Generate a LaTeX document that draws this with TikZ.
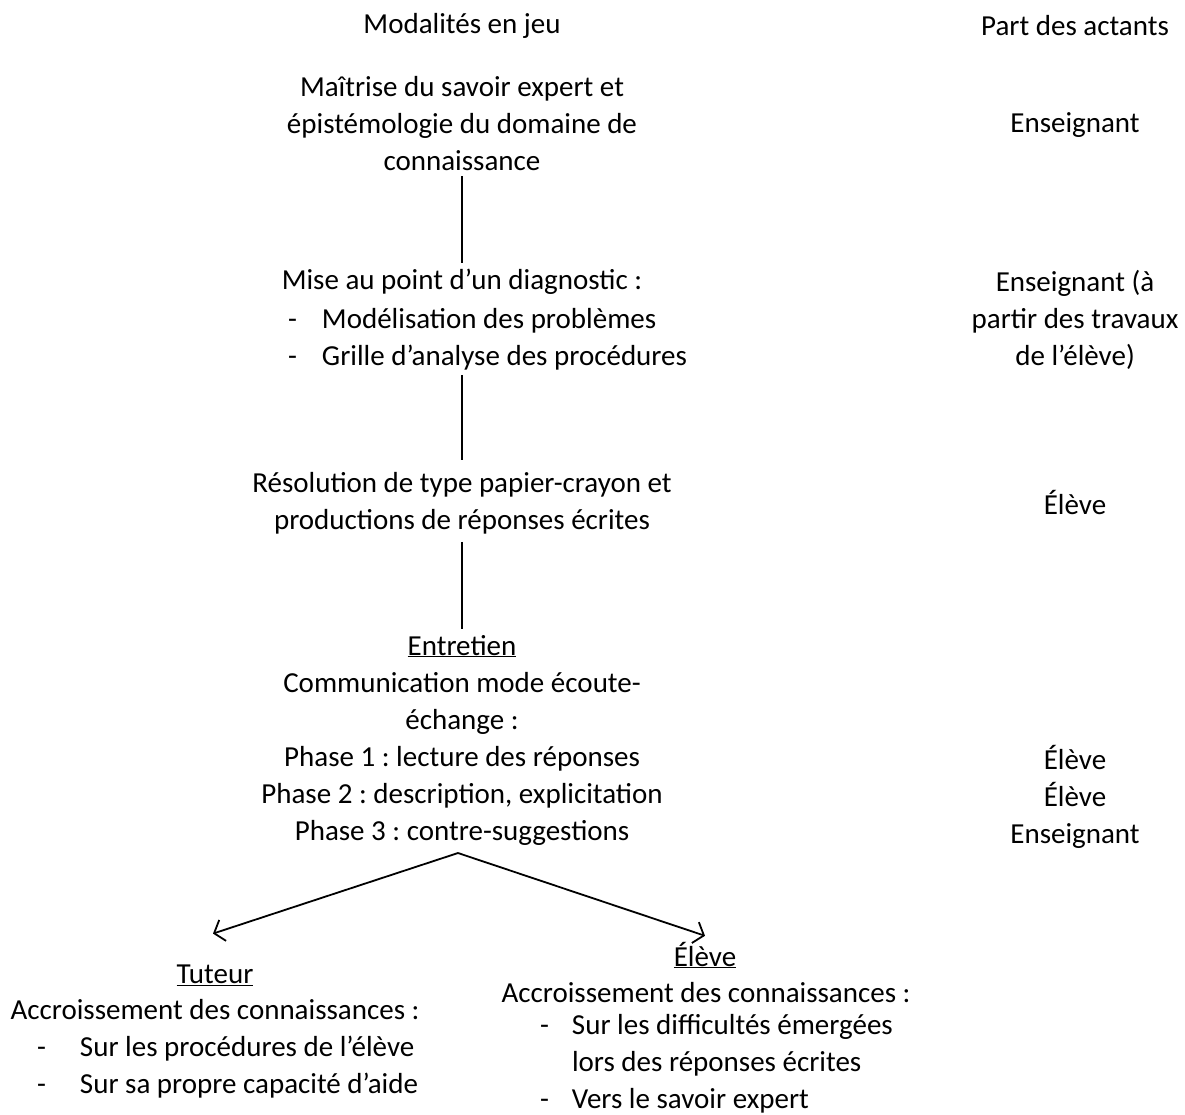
\documentclass[tikz,border=0pt]{standalone}
\usepackage{fontspec}
\setmainfont{Carlito}
\usetikzlibrary{arrows.meta,calc}

\frenchspacing
\newcommand{\puce}[2][34pt]{\makebox[#1][l]{-}#2}

\begin{document}
\begin{tikzpicture}[x=1pt,y=-1pt]

\tikzset{texte/.style={font=\fontsize{29}{37}\selectfont,inner sep=0pt,outer sep=0pt,align=center}}
\tikzset{line/.style={draw,line width=1.8pt}}
\tikzset{fleche/.style={line,-{Straight Barb[length=9pt,width=22pt,line width=1.8pt]}}}

\useasboundingbox (0,0) rectangle (1185,1115);

% titres des colonnes
\node[texte] (titreA) at (462, 26) {Modalités en jeu};
\node[texte] (titreB) at (1075, 26) {Part des actants};

% colonne de gauche
\node[texte] (maitrise) at (462, 124) {Maîtrise du savoir expert et\\épistémologie du domaine de\\connaissance};
\node[texte] (diag) at (462, 282) {Mise au point d’un diagnostic :};
\node[texte,anchor=west,align=left] (diagliste) at (288, 339) {\puce{Modélisation des problèmes}\\\puce{Grille d’analyse des procédures}};
\node[texte] (resol) at (462, 503) {Résolution de type papier-crayon et\\productions de réponses écrites};
\node[texte] (entretien) at (462, 740) {\underline{Entretien}\\Communication mode écoute-\\échange :\\Phase 1 : lecture des réponses\\Phase 2 : description, explicitation\\Phase 3 : contre-suggestions};

% colonne de droite
\node[texte] (ens1) at (1075, 125) {Enseignant};
\node[texte] (ens2) at (1075, 320) {Enseignant (à\\partir des travaux\\de l’élève)};
\node[texte] (eleve1) at (1075, 502) {Élève};
\node[texte] (phases) at (1075, 797) {Élève\\Élève\\Enseignant};

% branches du bas
\node[texte] (tuteur) at (215, 975) {\underline{Tuteur}};
\node[texte] (tuteuracc) at (215, 1010) {Accroissement des connaissances :};
\node[texte,anchor=west,align=left] (tuteurliste) at (37, 1067) {\puce[43pt]{Sur les procédures de l’élève}\\\puce[43pt]{Sur sa propre capacité d’aide}};

\node[texte] (eleve) at (705, 955) {\underline{Élève}};
\node[texte] (eleveacc) at (706, 993) {Accroissement des connaissances :};
\node[texte,anchor=west,align=left] (eleveliste) at (540, 1064) {\puce[32pt]{Sur les difficultés émergées}\\\hspace*{32pt}lors des réponses écrites\\\puce[32pt]{Vers le savoir expert}};

% liaisons
\coordinate (depart) at ([xshift=-4pt,yshift=-8pt]entretien.south);
\path[line] ([yshift=-5pt]maitrise.south) to ([yshift=6pt]diag.north);
\path[line] ([yshift=-5pt]diagliste.south -| diag) to ([yshift=12pt]resol.north);
\path[line] ([yshift=-8pt]resol.south) to ([yshift=6pt]entretien.north);
\path[fleche] (depart) to ([xshift=-2pt,yshift=31pt]tuteur.north);
\path[fleche] (depart) to ([yshift=6pt]eleve.north);

\end{tikzpicture}
\end{document}
